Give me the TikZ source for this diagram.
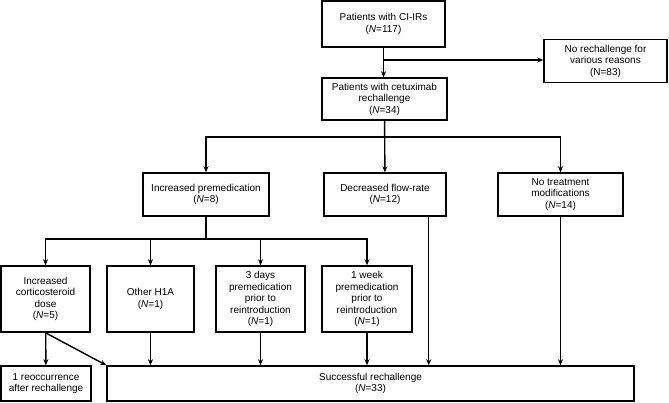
\documentclass[tikz,border=0pt]{standalone}
\usepackage{fontspec}
\setmainfont{Liberation Sans}
\usetikzlibrary{arrows.meta}

\tikzstyle{stage} = [draw, rectangle, line width=1.5pt, inner sep=0pt, align=center, font=\fontsize{10}{11.5}\selectfont]
\tikzstyle{flow}  = [-{Stealth[length=6pt,width=5pt]}, line width=1.4pt]

\begin{document}
\begin{tikzpicture}[x=1pt, y=-1pt]
  \useasboundingbox (0,0) rectangle (669,402);
  \node at (383.5,24)  (ci)      [stage, minimum width=123pt, minimum height=46pt] {Patients with CI-IRs\\(\textit{N}=117)};
  \node at (605.5,61)  (norech)  [stage, minimum width=123pt, minimum height=43pt] {No rechallenge for\\various reasons\\(N=83)};
  \node at (384.5,99)  (cetux)   [stage, minimum width=125pt, minimum height=42pt] {Patients with cetuximab\\rechallenge\\(\textit{N}=34)};
  \node at (206,194.5) (incpre)  [stage, minimum width=126pt, minimum height=43pt] {Increased premedication\\(\textit{N}=8)};
  \node at (385,194.5) (decflow) [stage, minimum width=122pt, minimum height=43pt] {Decreased flow-rate\\(\textit{N}=12)};
  \node at (560.5,194.5) (notreat) [stage, minimum width=125pt, minimum height=43pt] {No treatment\\modifications\\(\textit{N}=14)};
  \node at (45.5,299)  (cort)    [stage, minimum width=89pt, minimum height=66pt] {Increased\\corticosteroid\\dose\\(\textit{N}=5)};
  \node at (150.5,299) (otherh)  [stage, minimum width=87pt, minimum height=66pt] {Other H1A\\(\textit{N}=1)};
  \node at (260.5,299) (threed)  [stage, minimum width=89pt, minimum height=66pt] {3 days\\premedication\\prior to\\reintroduction\\(\textit{N}=1)};
  \node at (367,299)   (onew)    [stage, minimum width=90pt, minimum height=66pt] {1 week\\premedication\\prior to\\reintroduction\\(\textit{N}=1)};
  \node at (46,383.5)  (reocc)   [stage, minimum width=90pt, minimum height=35pt] {1 reoccurrence\\after rechallenge};
  \node at (370.5,383.5) (success) [stage, minimum width=527pt, minimum height=35pt] {Successful rechallenge\\(\textit{N}=33)};
  % top part
  \coordinate (split) at (383.5,60);
  \draw[flow] (ci) -- (ci |- cetux.north);
  \draw[flow] (split) -- (split -| norech.west);
  % three ways of rechallenge
  \coordinate (hub1) at (384.5,137);
  \draw[flow] (cetux) -- (decflow);
  \draw[flow] (hub1) -| (incpre);
  \draw[flow] (hub1) -| (notreat);
  % premedication
  \coordinate (hub2) at (206,239);
  \draw[line width=1.4pt] (incpre) -- (hub2);
  \foreach \n in {cort, otherh, threed, onew}
    \draw[flow] (hub2) -| (\n);
  % outcome
  \coordinate (dfout) at ([xshift=-18pt]decflow.south east);
  \draw[flow] (cort) -- (reocc);
  \draw[flow] (cort.south) -- (success.north west);
  \draw[flow] (dfout) -- (dfout |- success.north);
  \foreach \n in {otherh, threed, onew, notreat}
    \draw[flow] (\n) -- (\n |- success.north);
\end{tikzpicture}
\end{document}
